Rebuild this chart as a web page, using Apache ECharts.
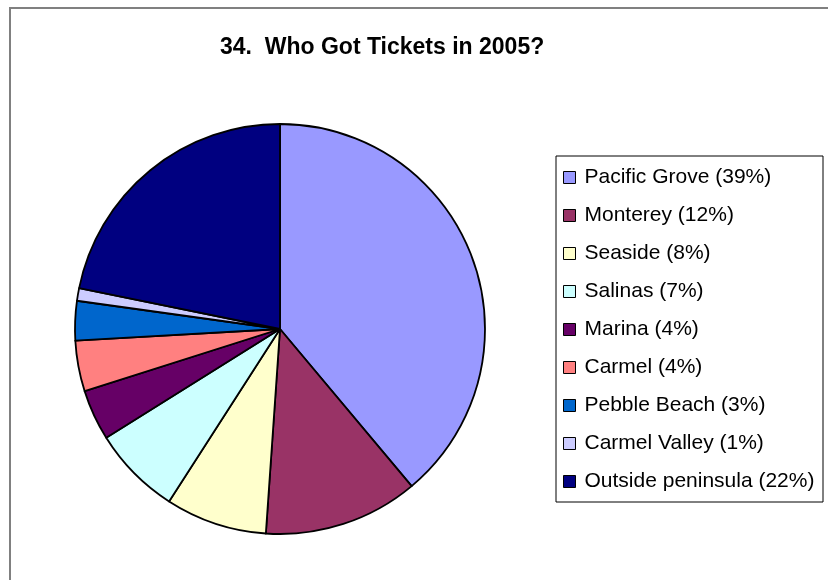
<!DOCTYPE html>
<html>
<head>
<meta charset="utf-8">
<script src="https://cdn.jsdelivr.net/npm/echarts@6/dist/echarts.min.js"></script>
<style>
  html, body { margin: 0; padding: 0; background: #fff; }
  #chart { width: 828px; height: 580px; }
</style>
</head>
<body>
<div id="chart"></div>
<script>
const titleText = '34.  Who Got Tickets in 2005?';
const categories = ['Pacific Grove', 'Monterey', 'Seaside', 'Salinas', 'Marina', 'Carmel', 'Pebble Beach', 'Carmel Valley', 'Outside peninsula'];
const values = [38.9, 12.2, 8.0, 7.0, 4.0, 4.0, 3.1, 1.0, 21.8];
const pctLabels = ['39%', '12%', '8%', '7%', '4%', '4%', '3%', '1%', '22%'];
const colors = ['#9999FF', '#993366', '#FFFFCC', '#CCFFFF', '#660066', '#FF8080', '#0066CC', '#CCCCFF', '#000080'];

const font = 'Liberation Sans, Arial, sans-serif';
const chart = echarts.init(document.getElementById('chart'), null, { renderer: 'canvas' });

chart.setOption({
  backgroundColor: '#ffffff',
  animation: false,
  color: colors,
  title: {
    text: titleText,
    left: 220,
    top: 36,
    padding: 0,
    textStyle: { fontFamily: font, fontSize: 23, fontWeight: 'bold', color: '#000' }
  },
  graphic: [
    {
      type: 'rect', z: -1,
      shape: { x: 10, y: 8, width: 840, height: 600 },
      style: { fill: 'none', stroke: '#808080', lineWidth: 2 }
    },
    {
      type: 'rect', z: -1,
      shape: { x: 556, y: 156, width: 267, height: 346 },
      style: { fill: '#fff', stroke: '#000', lineWidth: 1 }
    }
  ],
  legend: {
    orient: 'vertical',
    left: 563,
    top: 167,
    padding: 0,
    icon: 'rect',
    itemWidth: 12,
    itemHeight: 12,
    itemGap: 17,
    itemStyle: { borderColor: '#000', borderWidth: 1 },
    textStyle: { fontFamily: font, fontSize: 21, color: '#000', padding: [0, 0, 0, 4] },
    data: categories,
    formatter: function (name) {
      const i = categories.indexOf(name);
      return name + ' (' + pctLabels[i] + ')';
    }
  },
  series: [{
    type: 'pie',
    center: [280, 329],
    radius: 205,
    startAngle: 90,
    clockwise: true,
    avoidLabelOverlap: false,
    label: { show: false },
    labelLine: { show: false },
    emphasis: { disabled: true },
    itemStyle: { borderColor: '#000', borderWidth: 1.8 },
    data: categories.map((c, i) => ({ name: c, value: values[i] }))
  }]
});
</script>
</body>
</html>
